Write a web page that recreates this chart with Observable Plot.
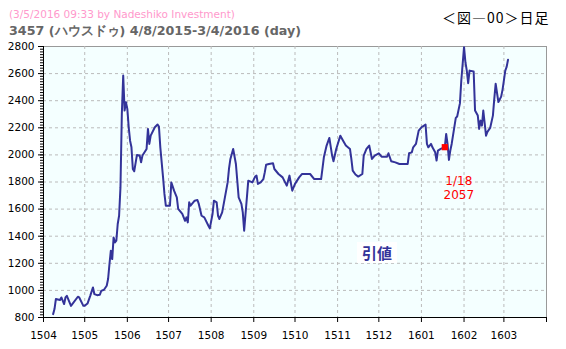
<!DOCTYPE html>
<html><head><meta charset="utf-8">
<script src="https://cdn.jsdelivr.net/npm/d3@7"></script>
<script src="https://cdn.jsdelivr.net/npm/@observablehq/plot@0.6"></script>
<style>
body{margin:0;background:#fff;}
#wrap{position:relative;width:566px;height:349px;overflow:hidden;font-family:"DejaVu Sans",Verdana,sans-serif;}
#wrap svg{position:absolute;left:0;top:0;}
.t{position:absolute;white-space:nowrap;line-height:1;}
</style></head><body>
<div id="wrap">
<div class="t" style="left:9px;top:9px;font-size:10.5px;color:#ff99cc;">(3/5/2016 09:33 by Nadeshiko Investment)</div>
<div class="t" style="left:9px;top:25px;font-size:12.7px;font-weight:bold;color:#666;">3457 (ハウスドゥ) 4/8/2015-3/4/2016 (day)</div>
<div class="t" style="left:442px;top:10px;font-size:14px;letter-spacing:1px;color:#000;font-family:'Noto Sans CJK JP',sans-serif;">＜図―00＞日足</div>
<div class="t" style="left:357px;top:242px;padding:3px 5px;background:#fff;font-size:15px;font-weight:bold;color:#333399;font-family:'Noto Sans CJK JP',sans-serif;">引値</div>
</div>
<script>
const dates = [
"2015-04-08","2015-04-09","2015-04-10","2015-04-13","2015-04-14","2015-04-16","2015-04-17","2015-04-18","2015-04-21","2015-04-26",
"2015-04-27","2015-04-30","2015-05-01","2015-05-03","2015-05-05","2015-05-07","2015-05-08","2015-05-10","2015-05-12","2015-05-13",
"2015-05-15","2015-05-17","2015-05-18","2015-05-19","2015-05-20","2015-05-21","2015-05-22","2015-05-23","2015-05-24","2015-05-25",
"2015-05-26","2015-05-27","2015-05-28","2015-05-29","2015-05-30","2015-05-31","2015-06-01","2015-06-02","2015-06-03","2015-06-04",
"2015-06-05","2015-06-06","2015-06-08","2015-06-10","2015-06-11","2015-06-12","2015-06-15","2015-06-16","2015-06-17","2015-06-18",
"2015-06-21","2015-06-23","2015-06-24","2015-06-25","2015-06-27","2015-06-28","2015-06-29","2015-07-02","2015-07-03","2015-07-05",
"2015-07-07","2015-07-08","2015-07-11","2015-07-13","2015-07-14","2015-07-15","2015-07-16","2015-07-17","2015-07-20","2015-07-22",
"2015-07-23","2015-07-25","2015-07-27","2015-07-30","2015-07-31","2015-08-02","2015-08-03","2015-08-05","2015-08-06","2015-08-07",
"2015-08-09","2015-08-11","2015-08-13","2015-08-14","2015-08-15","2015-08-17","2015-08-19","2015-08-21","2015-08-23","2015-08-24",
"2015-08-25","2015-08-26","2015-08-27","2015-08-28","2015-08-31","2015-09-02","2015-09-03","2015-09-04","2015-09-06","2015-09-08",
"2015-09-09","2015-09-10","2015-09-12","2015-09-15","2015-09-16","2015-09-19","2015-09-22","2015-09-25","2015-09-27","2015-09-29",
"2015-10-01","2015-10-04","2015-10-06","2015-10-12","2015-10-15","2015-10-20","2015-10-21","2015-10-22","2015-10-24","2015-10-26",
"2015-10-28","2015-10-29","2015-10-31","2015-11-03","2015-11-05","2015-11-07","2015-11-10","2015-11-11","2015-11-12","2015-11-14",
"2015-11-16","2015-11-19","2015-11-20","2015-11-22","2015-11-24","2015-11-26","2015-11-28","2015-12-01","2015-12-03","2015-12-07",
"2015-12-08","2015-12-10","2015-12-13","2015-12-16","2015-12-22","2015-12-23","2015-12-25","2015-12-26","2015-12-28","2015-12-30",
"2016-01-01","2016-01-04","2016-01-05","2016-01-06","2016-01-08","2016-01-09","2016-01-11","2016-01-12","2016-01-13","2016-01-15",
"2016-01-18","2016-01-19","2016-01-20","2016-01-21","2016-01-22","2016-01-23","2016-01-26","2016-01-27","2016-01-29","2016-01-30",
"2016-01-31","2016-02-01","2016-02-02","2016-02-03","2016-02-04","2016-02-05","2016-02-08","2016-02-09","2016-02-11","2016-02-12",
"2016-02-13","2016-02-14","2016-02-15","2016-02-17","2016-02-18","2016-02-20","2016-02-22","2016-02-23","2016-02-24","2016-02-26",
"2016-02-28","2016-02-29","2016-03-01","2016-03-02","2016-03-03","2016-03-04"
];
const closes = [
825,862,936,929,948,899,948,960,886,953,
948,886,886,903,960,1022,973,965,968,997,
1005,1034,1084,1195,1293,1231,1391,1354,1367,1490,
1551,1760,2303,2586,2327,2389,2340,2204,2105,2056,
1896,1879,2000,1995,1945,1995,2044,2192,2081,2142,
2204,2224,2209,2056,1834,1712,1625,1625,1797,1736,
1687,1601,1564,1514,1539,1502,1650,1625,1662,1667,
1638,1551,1539,1477,1458,1564,1662,1650,1551,1527,
1576,1687,1797,1900,1970,2044,1933,1687,1638,1576,
1441,1564,1687,1810,1797,1840,1847,1786,1797,1822,
1871,1928,1933,1938,1896,1859,1834,1773,1847,1736,
1786,1834,1859,1859,1822,1822,1900,1982,2069,2125,
1995,1953,2044,2142,2105,2069,2044,1970,1884,1855,
1840,1859,1995,2044,2069,1970,1995,2012,1987,1987,
2012,1953,1945,1933,1933,2012,2019,2056,2081,2179,
2204,2224,2081,2056,2081,2056,2019,1958,2032,2044,
2057,2155,2081,1963,2032,2081,2273,2283,2380,2549,
2672,2795,2684,2622,2529,2622,2615,2327,2290,2192,
2253,2216,2327,2142,2170,2199,2290,2414,2525,2390,
2430,2480,2550,2622,2650,2702
];
const xTickLabels = ["1504","1505","1506","1507","1508","1509","1510","1511","1512","1601","1602","1603"];
const xEndLabel = "1604";
const yTickValues = [800,1000,1200,1400,1600,1800,2000,2200,2400,2600,2800];
const yMinorStep = 20;
const markDate = "2016-01-18";
const markValue = 2057;
const markLabel = "1/18";

const parseDay = d3.utcParse("%Y-%m-%d");
const parseYM = d3.utcParse("%y%m");
const data = dates.map((d, i) => ({date: parseDay(d), close: closes[i]}));
const monthTicks = xTickLabels.map(parseYM);
const endTick = parseYM(xEndLabel);
const xDomain = [monthTicks[0], endTick];
const yDomain = [yTickValues[0], yTickValues[yTickValues.length - 1]];
const yMinor = d3.range(yDomain[0], yDomain[1] + 1, yMinorStep);
const fmt = d3.utcFormat("%y%m");
const mark = [{date: parseDay(markDate), close: markValue}];

const chart = Plot.plot({
  width: 566, height: 349,
  marginLeft: 43, marginRight: 20, marginTop: 46, marginBottom: 32,
  style: {fontFamily: "DejaVu Sans, Verdana, sans-serif", fontSize: "10.5px", color: "#000", background: "transparent"},
  x: {type: "utc", domain: xDomain},
  y: {domain: yDomain},
  marks: [
    Plot.frame({fill: "#F4FFFF", stroke: "#999"}),
    Plot.gridY(yTickValues.slice(1, -1), {stroke: "#bbb", strokeOpacity: 1, strokeDasharray: "3,3"}),
    Plot.gridX(monthTicks.slice(1), {stroke: "#bbb", strokeOpacity: 1, strokeDasharray: "3,3"}),
    Plot.ruleX([xDomain[0]], {stroke: "#000"}),
    Plot.ruleY([yDomain[0]], {stroke: "#000"}),
    Plot.axisY(yMinor, {tickSize: 3, tickFormat: () => "", label: null}),
    Plot.axisY(yTickValues, {tickSize: 5, tickPadding: 4, label: null, fill: "#000", tickFormat: d => String(d)}),
    Plot.axisX([...monthTicks, endTick], {tickSize: 5, tickPadding: 9, label: null, fill: "#000",
      tickFormat: d => (+d === +endTick ? "" : fmt(d))}),
    Plot.line(data, {x: "date", y: "close", stroke: "#333399", strokeWidth: 2}),
    Plot.dot(mark, {x: "date", y: "close", symbol: "square", r: 3.5, fill: "#ff0000"}),
    Plot.text(mark, {x: "date", y: "close", text: () => markLabel, dx: 14, dy: 34, fill: "#ff0000", fontSize: 12}),
    Plot.text(mark, {x: "date", y: "close", text: d => String(d.close), dx: 14, dy: 48, fill: "#ff0000", fontSize: 12})
  ]
});
document.getElementById("wrap").prepend(chart);
</script>
</body></html>
